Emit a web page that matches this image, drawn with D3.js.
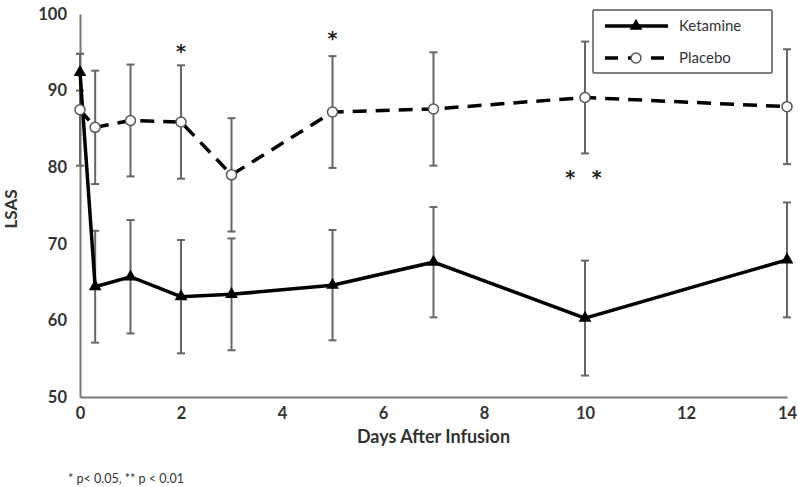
<!DOCTYPE html>
<html>
<head>
<meta charset="utf-8">
<script src="https://cdn.jsdelivr.net/npm/d3@7"></script>
<style>
  body { margin: 0; background: #fff; }
  text { font-family: Lato, "Open Sans", sans-serif; fill: #333; }
</style>
</head>
<body>
<div id="chart"></div>
<script>
// LSAS after infusion: ketamine vs placebo

let days = [0, 0.3, 1, 2, 3, 5, 7, 10, 14];
let ketamine = [92.4, 64.4, 65.7, 63.1, 63.4, 64.6, 67.6, 60.3, 67.9];
let ketamineErr = [2.4, 7.3, 7.4, 7.4, 7.3, 7.2, 7.2, 7.5, 7.5];
let placebo = [87.5, 85.2, 86.1, 85.9, 79.0, 87.2, 87.6, 89.1, 87.9];
let placeboErr = [7.3, 7.4, 7.3, 7.4, 7.4, 7.3, 7.4, 7.3, 7.5];
let xTicks = [0, 2, 4, 6, 8, 10, 12, 14];
let yTicks = [50, 60, 70, 80, 90, 100];
// significance marks: [day, value at the mark's centre, label]
let marks = [[2, 95.8, "*"], [5, 97.5, "*"], [10.02, 79.3, "* *"]];

let svgWidth = 798;
let svgHeight = 487;

let margin = { top: 14, right: 11, bottom: 90, left: 80 };
let width = svgWidth - margin.left - margin.right;
let height = svgHeight - margin.top - margin.bottom;

let svg = d3.select("#chart")
  .append("svg")
  .attr("width", svgWidth)
  .attr("height", svgHeight);

let chartGroup = svg.append("g")
  .attr("transform", `translate(${margin.left}, ${margin.top})`);

let xScale = d3.scaleLinear().domain([0, 14]).range([0, width]);
let yScale = d3.scaleLinear().domain([50, 100]).range([height, 0]);

// axes (no tick marks, just lines + labels)
let xAxis = d3.axisBottom(xScale).tickValues(xTicks).tickSize(0).tickPadding(10);
let yAxis = d3.axisLeft(yScale).tickValues(yTicks).tickSize(0).tickPadding(13);

let gx = chartGroup.append("g")
  .attr("transform", `translate(0, ${height})`)
  .call(xAxis);
let gy = chartGroup.append("g").call(yAxis);

[gx, gy].forEach(g => {
  g.select(".domain").attr("stroke", "#777").attr("stroke-width", 2);
  g.selectAll("text")
    .attr("font-size", "16.5px")
    .attr("font-weight", "bold")
    .style("font-family", "Lato, sans-serif")
    .attr("fill", "#333");
});

let series = [
  { name: "Ketamine", vals: ketamine, err: ketamineErr, dash: null },
  { name: "Placebo", vals: placebo, err: placeboErr, dash: "14,9" }
];

// error bars
series.forEach(s => {
  let eb = chartGroup.append("g");
  days.forEach((d, i) => {
    let x = xScale(d);
    let y1 = yScale(s.vals[i] + s.err[i]);
    let y2 = yScale(s.vals[i] - s.err[i]);
    eb.append("line").attr("x1", x).attr("x2", x).attr("y1", y1).attr("y2", y2)
      .attr("stroke", "#666").attr("stroke-width", 2);
    [y1, y2].forEach(yy => {
      eb.append("line").attr("x1", x - 4).attr("x2", x + 4).attr("y1", yy).attr("y2", yy)
        .attr("stroke", "#666").attr("stroke-width", 2);
    });
  });
});

let line = d3.line().x(d => xScale(d[0])).y(d => yScale(d[1]));

series.forEach(s => {
  chartGroup.append("path")
    .datum(days.map((d, i) => [d, s.vals[i]]))
    .attr("d", line)
    .attr("fill", "none")
    .attr("stroke", "#000")
    .attr("stroke-width", 3.5)
    .attr("stroke-dasharray", s.dash);
});

let tri = d3.symbol().type(d3.symbolTriangle).size(70);

chartGroup.selectAll(".ket")
  .data(days)
  .enter()
  .append("path")
  .attr("class", "ket")
  .attr("d", tri)
  .attr("transform", (d, i) => `translate(${xScale(d)}, ${yScale(ketamine[i])})`)
  .attr("fill", "#000");

chartGroup.selectAll(".plc")
  .data(days)
  .enter()
  .append("circle")
  .attr("class", "plc")
  .attr("cx", d => xScale(d))
  .attr("cy", (d, i) => yScale(placebo[i]))
  .attr("r", 5)
  .attr("fill", "#fff")
  .attr("stroke", "#555")
  .attr("stroke-width", 1.5);

// significance stars
chartGroup.selectAll(".star")
  .data(marks)
  .enter()
  .append("text")
  .attr("class", "star")
  .attr("x", d => xScale(d[0]))
  .attr("y", d => yScale(d[1]))
  .attr("dy", "0.62em")
  .attr("text-anchor", "middle")
  .attr("font-size", "19px")
  .attr("font-weight", "bold")
  .attr("letter-spacing", d => d[2].length > 1 ? "5px" : null)
  .style("font-family", "'DejaVu Sans', sans-serif")
  .style("fill", "#222")
  .text(d => d[2]);

// legend
let legend = svg.append("g").attr("transform", "translate(593, 10)");
legend.append("rect")
  .attr("width", 179).attr("height", 63)
  .attr("fill", "#fff").attr("stroke", "#555").attr("stroke-width", 1.5).attr("rx", 1);
series.forEach((s, i) => {
  let ly = 16 + i * 32;
  legend.append("line")
    .attr("x1", 12).attr("x2", 75).attr("y1", ly).attr("y2", ly)
    .attr("stroke", "#000").attr("stroke-width", 3.5)
    .attr("stroke-dasharray", s.dash ? "13,10" : null);
  if (i === 0) {
    legend.append("path").attr("d", tri).attr("transform", `translate(43, ${ly})`).attr("fill", "#000");
  } else {
    legend.append("circle").attr("cx", 43).attr("cy", ly).attr("r", 5)
      .attr("fill", "#fff").attr("stroke", "#555").attr("stroke-width", 1.5);
  }
  legend.append("text")
    .attr("x", 86).attr("y", ly + 5)
    .attr("font-size", "15px")
    .text(s.name);
});

// axis titles
svg.append("text")
  .attr("transform", "translate(17, 209) rotate(-90)")
  .attr("text-anchor", "middle")
  .attr("font-size", "17px")
  .attr("font-weight", "bold")
  .text("LSAS");

svg.append("text")
  .attr("x", margin.left + width / 2)
  .attr("y", 443)
  .attr("text-anchor", "middle")
  .attr("font-size", "18px")
  .attr("font-weight", "bold")
  .text("Days After Infusion");

svg.append("text")
  .attr("x", 68)
  .attr("y", 483)
  .attr("font-size", "12.5px")
  .text("* p< 0.05, ** p < 0.01");
</script>
</body>
</html>
